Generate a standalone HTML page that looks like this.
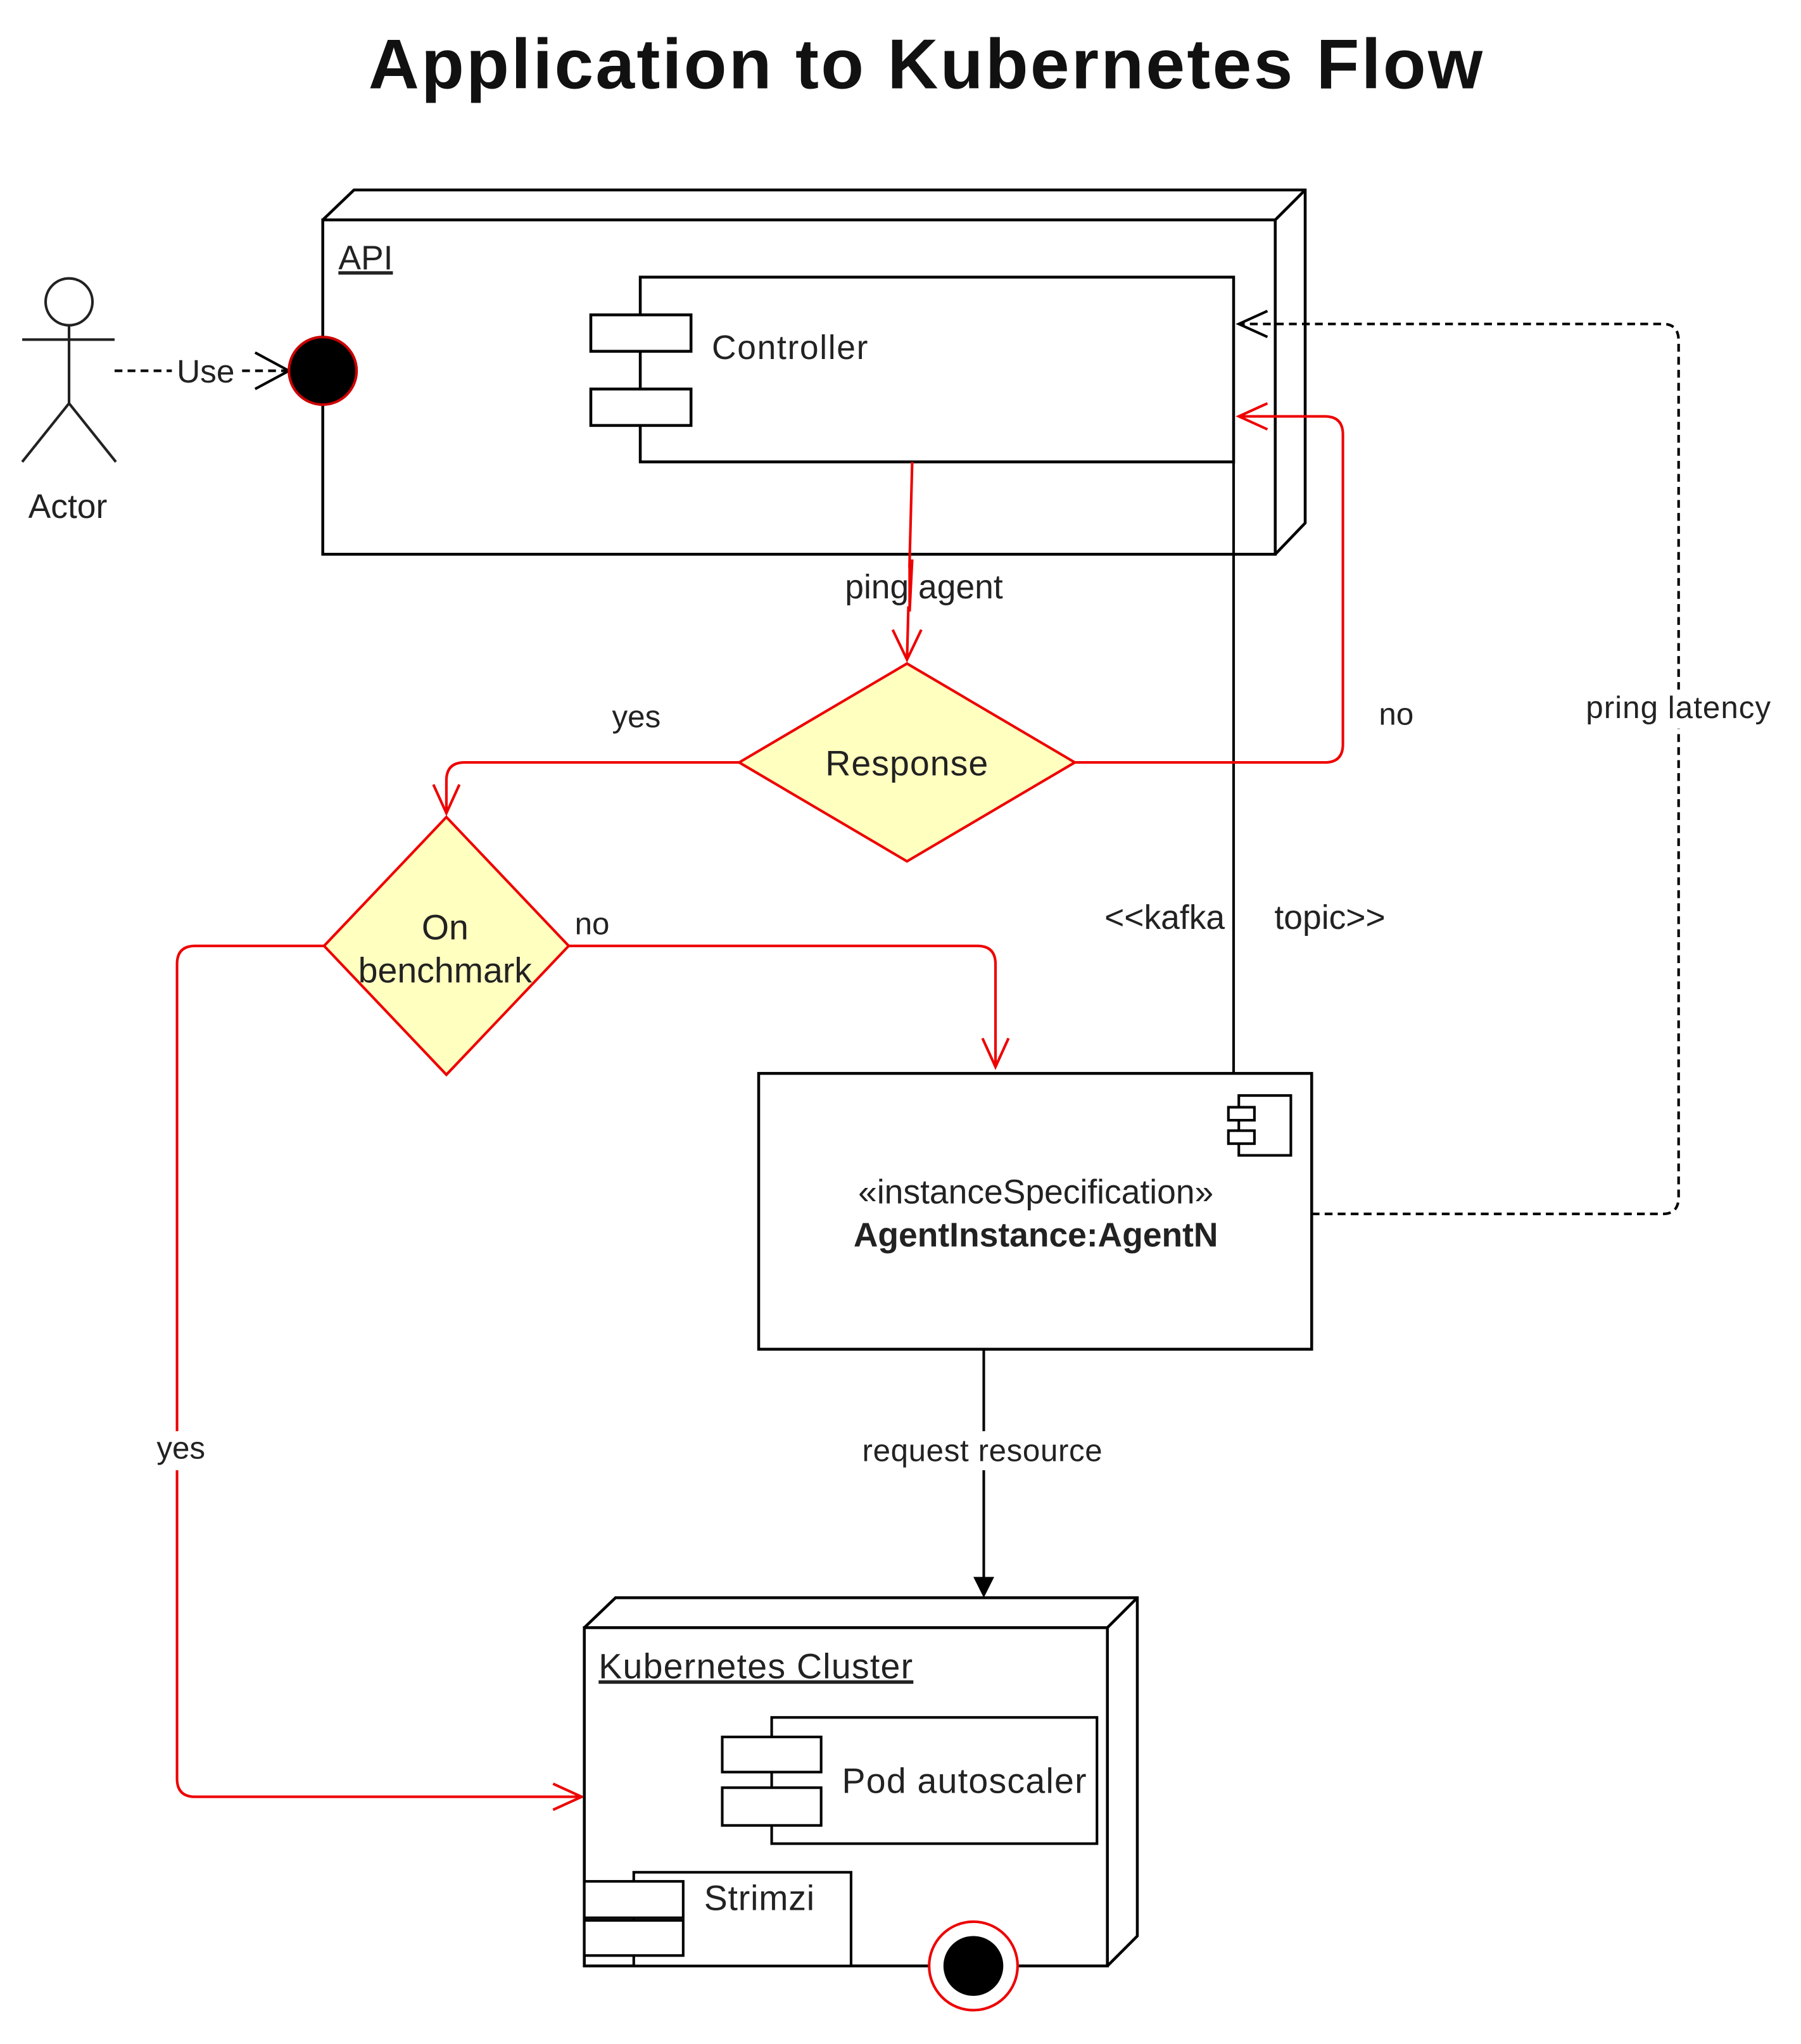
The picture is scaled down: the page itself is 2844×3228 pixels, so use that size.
<!DOCTYPE html>
<html><head><meta charset="utf-8"><style>html,body{margin:0;padding:0;background:#fff}svg{display:block}</style></head>
<body>
<svg xmlns="http://www.w3.org/2000/svg" width="2844" height="3228" viewBox="0 0 1384 1571" font-family="Liberation Sans, Arial, sans-serif">
<rect width="1384" height="1571" fill="#fff"/>
<text x="712" y="68" font-size="54" font-weight="bold" text-anchor="middle" fill="#111" letter-spacing="1.6">Application to Kubernetes Flow</text>

<!-- API node -->
<g fill="none" stroke="#000" stroke-width="2.2">
<rect x="248" y="169" width="732" height="257" fill="#fff"/>
<polyline points="248,169 272,146 1003,146 1003,402 980,426"/>
<line x1="980" y1="169" x2="1003" y2="146"/>
</g>
<text x="260" y="207" font-size="26" fill="#222" text-decoration="underline">API</text>

<!-- Controller -->
<g fill="#fff" stroke="#000" stroke-width="2.2">
<rect x="492" y="213" width="456" height="142"/>
<rect x="454" y="242" width="77" height="28"/>
<rect x="454" y="299" width="77" height="28"/>
</g>
<text x="547" y="276" font-size="26" fill="#222" letter-spacing="0.8">Controller</text>

<!-- kafka topic line -->
<line x1="948" y1="355" x2="948" y2="825" stroke="#000" stroke-width="2"/>
<text x="895" y="714" font-size="26" fill="#222" text-anchor="middle">&lt;&lt;kafka</text>
<text x="1022" y="714" font-size="26" fill="#222" text-anchor="middle">topic&gt;&gt;</text>

<!-- Actor -->
<g fill="none" stroke="#222" stroke-width="2">
<circle cx="53" cy="232" r="18"/>
<line x1="53" y1="250" x2="53" y2="310"/>
<line x1="17" y1="261" x2="88" y2="261"/>
<polyline points="17,355 53,310 89,355"/>
</g>
<text x="52" y="398" font-size="26" fill="#222" text-anchor="middle">Actor</text>

<!-- Use -->
<g stroke="#000" stroke-width="2" fill="none">
<line x1="88" y1="285" x2="132" y2="285" stroke-dasharray="6,4"/>
<line x1="186" y1="285" x2="222" y2="285" stroke-dasharray="6,4"/>
<polyline points="196,271 222,285 196,299"/>
</g>
<text x="158" y="294" font-size="25" fill="#222" text-anchor="middle">Use</text>
<circle cx="248" cy="285" r="26" fill="#000" stroke="#c00" stroke-width="2"/>

<!-- red connectors -->
<g stroke="#e00" stroke-width="2" fill="none">
<line x1="701" y1="355" x2="697" y2="507"/>
<polyline points="686,484 697,507 708,484"/>
<path d="M568,586 H357 Q343,586 343,600 V625"/>
<polyline points="333,603 343,625 353,603"/>
<path d="M826,586 H1018 Q1032,586 1032,572 V334 Q1032,320 1018,320 H952"/>
<polyline points="974,310 952,320 974,330"/>
<path d="M437,727 H751 Q765,727 765,741 V820"/>
<polyline points="755,798 765,820 775,798"/>
<path d="M249,727 H150 Q136,727 136,741 V1367 Q136,1381 150,1381 H447"/>
<polyline points="425,1371 447,1381 425,1391"/>
</g>
<rect x="640" y="436" width="58" height="30" fill="#fff"/>
<rect x="704" y="436" width="76" height="30" fill="#fff"/>
<line x1="701" y1="430" x2="699" y2="470" stroke="#e00" stroke-width="2"/>
<text x="710" y="460" font-size="26" fill="#222" text-anchor="middle">ping agent</text>
<text x="489" y="559" font-size="24" fill="#222" text-anchor="middle">yes</text>
<text x="1073" y="557" font-size="24" fill="#222" text-anchor="middle">no</text>
<text x="455" y="718" font-size="24" fill="#222" text-anchor="middle">no</text>
<rect x="116" y="1100" width="48" height="30" fill="#fff"/>
<text x="139" y="1121" font-size="24" fill="#222" text-anchor="middle">yes</text>

<!-- Diamonds -->
<polygon points="697,510 826,586 697,662 568,586" fill="#ffffc0" stroke="#e00" stroke-width="2"/>
<text x="697" y="596" font-size="27" fill="#222" text-anchor="middle" letter-spacing="0.5">Response</text>
<polygon points="343,628 437,727 343,826 249,727" fill="#ffffc0" stroke="#e00" stroke-width="2"/>
<text x="342" y="722" font-size="27" fill="#222" text-anchor="middle">On</text>
<text x="342" y="755" font-size="27" fill="#222" text-anchor="middle">benchmark</text>

<!-- pring latency dashed -->
<g stroke="#000" stroke-width="2" fill="none">
<path d="M1008,933 H1278 Q1290,933 1290,920 V262 Q1290,249 1278,249 H952" stroke-dasharray="6,4"/>
<polyline points="974,239 952,249 974,259"/>
</g>
<rect x="1213" y="530" width="154" height="30" fill="#fff"/>
<text x="1290" y="552" font-size="24" fill="#222" text-anchor="middle" letter-spacing="0.5">pring latency</text>

<!-- AgentInstance -->
<rect x="583" y="825" width="425" height="212" fill="#fff" stroke="#000" stroke-width="2.2"/>
<g fill="#fff" stroke="#000" stroke-width="2">
<rect x="952" y="842" width="40" height="46"/>
<rect x="944" y="851" width="20" height="10"/>
<rect x="944" y="869" width="20" height="10"/>
</g>
<text x="796" y="925" font-size="26" fill="#222" text-anchor="middle">«instanceSpecification»</text>
<text x="796" y="958" font-size="26" font-weight="bold" fill="#222" text-anchor="middle">AgentInstance:AgentN</text>

<!-- request resource -->
<line x1="756" y1="1037" x2="756" y2="1214" stroke="#000" stroke-width="2"/>
<polygon points="748,1212 764,1212 756,1228" fill="#000"/>
<rect x="652" y="1100" width="208" height="30" fill="#fff"/>
<text x="755" y="1123" font-size="24" fill="#222" text-anchor="middle" letter-spacing="0.3">request resource</text>

<!-- Kubernetes node -->
<g fill="none" stroke="#000" stroke-width="2.2">
<rect x="449" y="1251" width="402" height="260" fill="#fff"/>
<polyline points="449,1251 473,1228 874,1228 874,1488 851,1511"/>
<line x1="851" y1="1251" x2="874" y2="1228"/>
</g>
<text x="460" y="1290" font-size="27" fill="#222" text-decoration="underline" letter-spacing="0.6">Kubernetes Cluster</text>
<g fill="#fff" stroke="#000" stroke-width="2">
<rect x="593" y="1320" width="250" height="97"/>
<rect x="555" y="1335" width="76" height="27"/>
<rect x="555" y="1374" width="76" height="29"/>
<rect x="487" y="1439" width="167" height="72"/>
<rect x="449" y="1446" width="76" height="28"/>
<rect x="449" y="1476" width="76" height="27"/>
</g>
<text x="647" y="1378" font-size="27" fill="#222" letter-spacing="0.6">Pod autoscaler</text>
<text x="541" y="1468" font-size="27" fill="#222" letter-spacing="0.4">Strimzi</text>

<circle cx="748" cy="1511" r="34" fill="#fff" stroke="#e00" stroke-width="2"/>
<circle cx="748" cy="1511" r="23" fill="#000"/>
</svg>
</body></html>
